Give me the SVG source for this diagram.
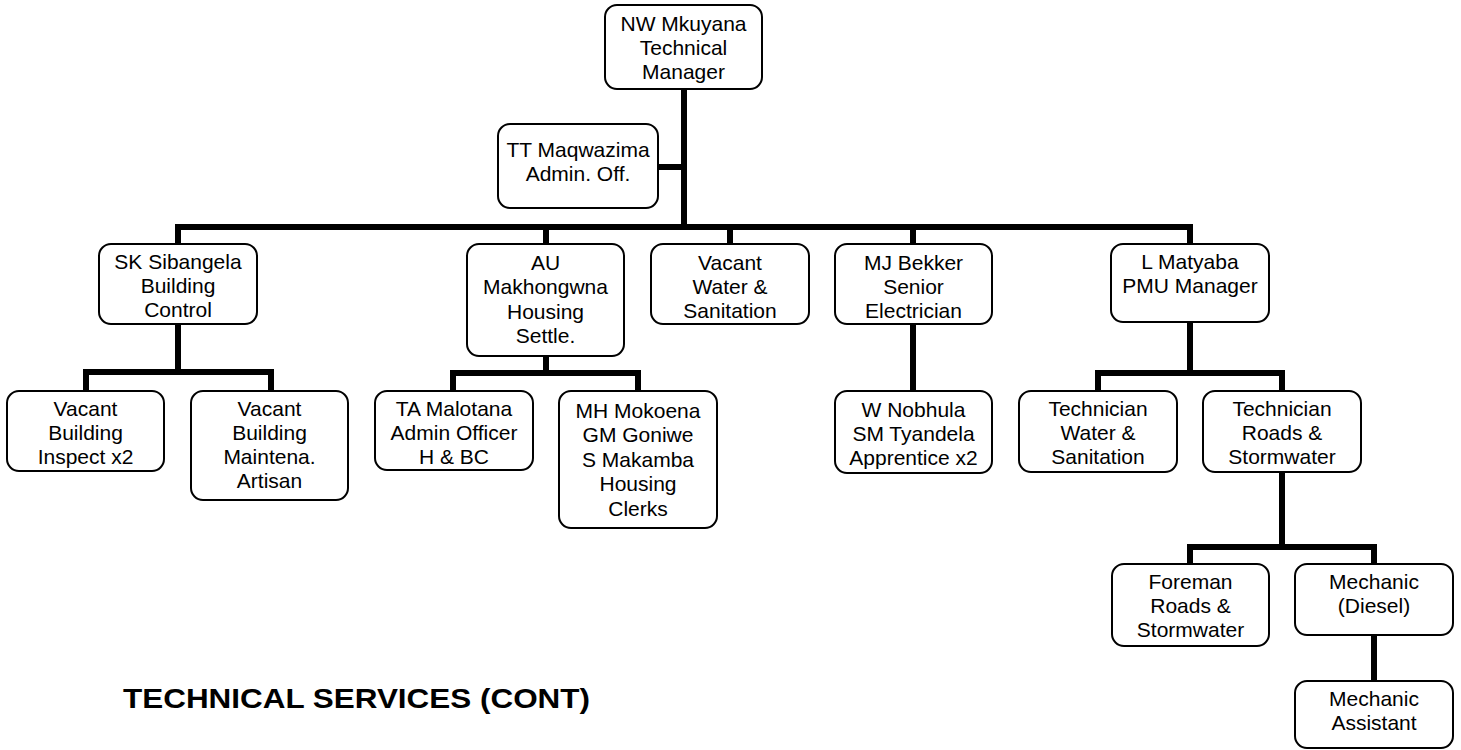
<svg xmlns="http://www.w3.org/2000/svg" width="1461" height="750" viewBox="0 0 1461 750">
<style>
.box{fill:#fff;stroke:#000;stroke-width:2}
.t{font-family:"Liberation Sans",Arial,sans-serif;font-size:21px;text-anchor:middle;fill:#000}
.c{fill:none;stroke:#000;stroke-width:6;stroke-linecap:square;stroke-linejoin:miter}
.title{font-family:"Liberation Sans",Arial,sans-serif;font-size:28px;font-weight:bold;fill:#000}
</style>
<rect width="1461" height="750" fill="#fff"/>
<g id="connectors">
<path class="c" d="M684 89V227M658 167H684M178 227H1190M178 227V244M546 227V244M730 227V244M913 227V244M1190 227V244"/>
<path class="c" d="M178 324V372M86 372H271M86 372V391M271 372V391"/>
<path class="c" d="M546 356V373M453 373H638M453 373V391M638 373V391"/>
<path class="c" d="M913 324V391"/>
<path class="c" d="M1190 322V373M1098 373H1282M1098 373V391M1282 373V391"/>
<path class="c" d="M1282 472V547M1190 547H1374M1190 547V564M1374 547V564"/>
<path class="c" d="M1374 635V681"/>
</g>
<g id="n-mkuyana"><rect class="box" x="605" y="5" width="157" height="84" rx="12"/><text class="t" x="683.5" y="31">NW Mkuyana</text><text class="t" x="683.5" y="55">Technical</text><text class="t" x="683.5" y="79">Manager</text></g>
<g id="n-maqwazima"><rect class="box" x="498" y="124" width="160" height="84" rx="12"/><text class="t" x="578" y="157">TT Maqwazima</text><text class="t" x="578" y="181">Admin. Off.</text></g>
<g id="n-sibangela"><rect class="box" x="99" y="244" width="158" height="80" rx="12"/><text class="t" x="178" y="269">SK Sibangela</text><text class="t" x="178" y="293">Building</text><text class="t" x="178" y="317">Control</text></g>
<g id="n-makhongwna"><rect class="box" x="467" y="244" width="157" height="112" rx="12"/><text class="t" x="545.5" y="270">AU</text><text class="t" x="545.5" y="294">Makhongwna</text><text class="t" x="545.5" y="319">Housing</text><text class="t" x="545.5" y="343">Settle.</text></g>
<g id="n-vacant-water"><rect class="box" x="651" y="244" width="158" height="80" rx="12"/><text class="t" x="730" y="270">Vacant</text><text class="t" x="730" y="294">Water &amp;</text><text class="t" x="730" y="318">Sanitation</text></g>
<g id="n-bekker"><rect class="box" x="835" y="244" width="157" height="80" rx="12"/><text class="t" x="913.5" y="270">MJ Bekker</text><text class="t" x="913.5" y="294">Senior</text><text class="t" x="913.5" y="318">Electrician</text></g>
<g id="n-matyaba"><rect class="box" x="1111" y="244" width="158" height="78" rx="12"/><text class="t" x="1190" y="269">L Matyaba</text><text class="t" x="1190" y="293">PMU Manager</text></g>
<g id="n-inspect"><rect class="box" x="7" y="391" width="157" height="80" rx="12"/><text class="t" x="85.5" y="416">Vacant</text><text class="t" x="85.5" y="440">Building</text><text class="t" x="85.5" y="464">Inspect x2</text></g>
<g id="n-artisan"><rect class="box" x="191" y="391" width="157" height="109" rx="12"/><text class="t" x="269.5" y="416">Vacant</text><text class="t" x="269.5" y="440">Building</text><text class="t" x="269.5" y="464">Maintena.</text><text class="t" x="269.5" y="488">Artisan</text></g>
<g id="n-malotana"><rect class="box" x="375" y="391" width="158" height="79" rx="12"/><text class="t" x="454" y="416">TA Malotana</text><text class="t" x="454" y="440">Admin Officer</text><text class="t" x="454" y="464">H &amp; BC</text></g>
<g id="n-clerks"><rect class="box" x="559" y="391" width="158" height="137" rx="12"/><text class="t" x="638" y="418">MH Mokoena</text><text class="t" x="638" y="442">GM Goniwe</text><text class="t" x="638" y="467">S Makamba</text><text class="t" x="638" y="491">Housing</text><text class="t" x="638" y="516">Clerks</text></g>
<g id="n-nobhula"><rect class="box" x="835" y="391" width="157" height="82" rx="12"/><text class="t" x="913.5" y="417">W Nobhula</text><text class="t" x="913.5" y="441">SM Tyandela</text><text class="t" x="913.5" y="465">Apprentice x2</text></g>
<g id="n-tech-water"><rect class="box" x="1019" y="391" width="158" height="81" rx="12"/><text class="t" x="1098" y="416">Technician</text><text class="t" x="1098" y="440">Water &amp;</text><text class="t" x="1098" y="464">Sanitation</text></g>
<g id="n-tech-roads"><rect class="box" x="1203" y="391" width="158" height="81" rx="12"/><text class="t" x="1282" y="416">Technician</text><text class="t" x="1282" y="440">Roads &amp;</text><text class="t" x="1282" y="464">Stormwater</text></g>
<g id="n-foreman"><rect class="box" x="1112" y="564" width="157" height="82" rx="12"/><text class="t" x="1190.5" y="589">Foreman</text><text class="t" x="1190.5" y="613">Roads &amp;</text><text class="t" x="1190.5" y="637">Stormwater</text></g>
<g id="n-mechanic"><rect class="box" x="1295" y="564" width="158" height="71" rx="12"/><text class="t" x="1374" y="589">Mechanic</text><text class="t" x="1374" y="613">(Diesel)</text></g>
<g id="n-mech-assistant"><rect class="box" x="1295" y="681" width="158" height="67" rx="12"/><text class="t" x="1374" y="706">Mechanic</text><text class="t" x="1374" y="730">Assistant</text></g>
<text class="title" x="123" y="708" textLength="467" lengthAdjust="spacingAndGlyphs">TECHNICAL SERVICES (CONT)</text>
</svg>
